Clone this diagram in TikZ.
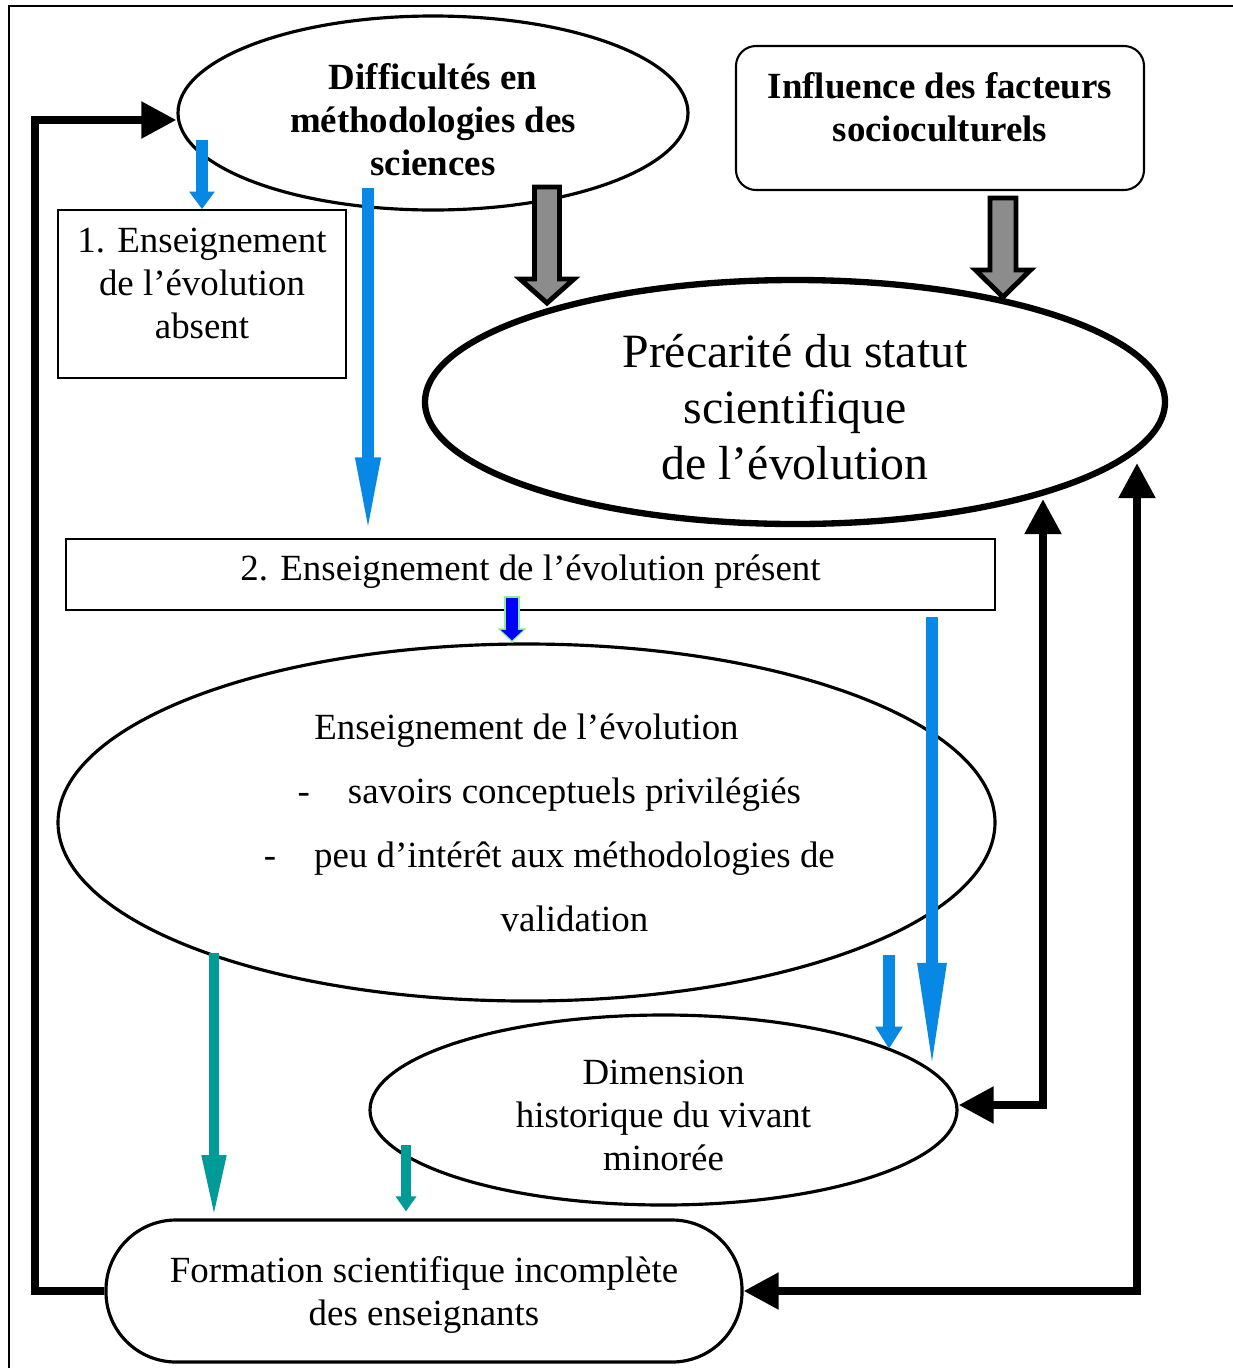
\documentclass[tikz,border=0pt]{standalone}
\usepackage{fontspec}
\setmainfont{Liberation Serif}
\usepackage{xcolor}
\usepackage{tikz}
\usetikzlibrary{positioning, shapes.geometric, arrows.meta, calc}
\definecolor{bleuClair}{HTML}{0788E5}
\definecolor{bleuFonce}{HTML}{0000FF}
\definecolor{vertClair}{HTML}{8CF08C}
\definecolor{sarcelle}{HTML}{009B96}
\definecolor{grisBloc}{HTML}{8C8C8C}

\begin{document}
\begin{tikzpicture}[
  every node/.style={
    align=center,
    inner sep=0pt,
    font=\fontsize{10.5pt}{12.2pt}\selectfont
  },
  ovale/.style={
    ellipse,
    draw=black,
    line width=0.9pt
  },
  boite/.style={
    rectangle,
    draw=black,
    line width=0.5pt
  },
  flecheBleue/.style={
    draw=bleuClair,
    line width=3.4pt,
    -{Triangle[length=6.3pt,width=7.4pt]}
  },
  flecheVerte/.style={
    draw=sarcelle,
    line width=2.8pt,
    -{Triangle[length=5pt,width=6.3pt]}
  },
  flecheNoire/.style={
    draw=black,
    line width=2.3pt,
    >={Triangle[length=10pt,width=10pt]},
    ->
  },
  bloc/.style={
    draw=black,
    fill=grisBloc,
    line width=1.4pt,
    line join=miter
  }
]
  \useasboundingbox (0,0) rectangle (12.33,-13.68);
  \draw[line width=0.6pt] (0.09,-13.68) -- (0.09,-0.06) -- (12.33,-0.06);

  % Nodes
  \node[ovale, minimum width=5.10cm, minimum height=1.94cm,
    font=\fontsize{10.5pt}{12.2pt}\selectfont\bfseries] (diff) at (4.33,-1.13)
    {\rule{0pt}{\dimexpr0.70em+0.14cm\relax}Difficultés en\\méthodologies des\\sciences};
  \node[boite, rounded corners=0.2cm, line width=0.6pt, minimum width=4.08cm, minimum height=1.44cm,
    font=\fontsize{10.5pt}{12.2pt}\selectfont\bfseries] (facteurs) at (9.40,-1.18)
    {Influence des facteurs\\socioculturels\rule[-0.22cm]{0pt}{0pt}};
  \node[boite, minimum width=2.88cm, minimum height=1.68cm] (absent) at (2.02,-2.94)
    {1. Enseignement\\de l’évolution\\absent\rule[-0.22cm]{0pt}{0pt}};
  \node[ovale, line width=1.8pt, minimum width=7.40cm, minimum height=2.44cm,
    font=\fontsize{13.6pt}{15.9pt}\selectfont] (precarite) at (7.95,-4.02)
    {\rule{0pt}{\dimexpr0.70em+0.10cm\relax}Précarité du statut\\scientifique\\de l’évolution};
  \node[boite, minimum width=9.29cm, minimum height=0.71cm] (present) at (5.305,-5.745)
    {2. Enseignement de l’évolution présent\rule[-0.14cm]{0pt}{0pt}};
  \node[ovale, minimum width=9.37cm, minimum height=3.57cm,
    font=\fontsize{10.5pt}{18.2pt}\selectfont] (enseig) at (5.265,-8.225)
    {Enseignement de l’évolution\\
     \hspace*{0.96cm}\llap{-\hspace{0.38cm}}savoirs conceptuels privilégiés\\
     \hspace*{0.96cm}\llap{-\hspace{0.38cm}}peu d’intérêt aux méthodologies de\\
     \hspace*{0.96cm}validation};
  \node[ovale, minimum width=5.87cm, minimum height=1.90cm] (dimension) at (6.635,-11.10)
    {\rule{0pt}{\dimexpr0.70em+0.10cm\relax}Dimension\\historique du vivant\\minorée};
  \node[boite, rounded corners=0.7cm, line width=0.9pt, minimum width=6.36cm, minimum height=1.42cm]
    (formation) at (4.24,-12.91)
    {\rule{0pt}{\dimexpr0.70em+0.08cm\relax}Formation scientifique incomplète\\des enseignants};

  % Free ends
  \coordinate (departA) at (2.02,-1.40);
  \coordinate (departB) at (3.68,-1.88);
  \coordinate (departC) at (9.32,-6.17);
  \coordinate (departD) at (8.89,-9.55);
  \coordinate (departE) at (2.14,-9.53);
  \coordinate (departF) at (4.06,-11.45);
  \coordinate (departG) at (5.12,-5.98);
  \coordinate (blocA) at (5.47,-1.87);
  \coordinate (blocB) at (10.03,-1.98);
  \coordinate (gauche) at (0.35,0);
  \coordinate (milieu) at (10.43,-4.99);
  \coordinate (droite) at (11.37,-4.63);

  % Blue arrows
  \draw[flecheBleue, -{Triangle[length=5pt,width=7pt]}] (departA) -- (absent.north);
  \draw[flecheBleue, -{Triangle[length=23pt,width=6.3pt]}] (departB) -- (departB |- present.north);
  \draw[flecheBleue, -{Triangle[length=31pt,width=7.4pt]}] (departC) -- (departC |- dimension.8);
  \draw[flecheBleue] (departD) -- (departD |- dimension.15);
  \draw[vertClair, line width=4.4pt, shorten <=-0.7pt, -{Triangle[length=4pt,width=8pt]}]
    (departG) -- (departG |- enseig.north);
  \draw[bleuFonce, line width=3.2pt, shorten >=0.6pt, -{Triangle[length=3pt,width=6.3pt]}]
    (departG) -- (departG |- enseig.north);

  % Teal arrows
  \draw[flecheVerte, -{Triangle[length=18pt,width=6.3pt]}] (departE) -- (departE |- formation.north);
  \draw[flecheVerte, shorten >=2pt, -{Triangle[length=4.3pt,width=5.7pt]}] (departF) -- (departF |- formation.north);

  % Block arrows
  \draw[bloc] ([xshift=-0.125cm]blocA) -- ++(0.25,0) -- ++(0,-0.92) -- ++(0.145,0)
    -- ++(-0.27,-0.24) -- ++(-0.27,0.24) -- ++(0.145,0) -- cycle;
  \draw[bloc] ([xshift=-0.13cm]blocB) -- ++(0.26,0) -- ++(0,-0.72) -- ++(0.145,0)
    -- ++(-0.275,-0.27) -- ++(-0.275,0.27) -- ++(0.145,0) -- cycle;

  % Black connectors
  \draw[flecheNoire] (formation.west) -- (formation.west -| gauche) |- ([yshift=-0.07cm]diff.west);
  \draw[flecheNoire, <->] ([yshift=0.05cm]dimension.east) -| (milieu);
  \draw[flecheNoire, <->] (formation.east) -| (droite);
\end{tikzpicture}
\end{document}
